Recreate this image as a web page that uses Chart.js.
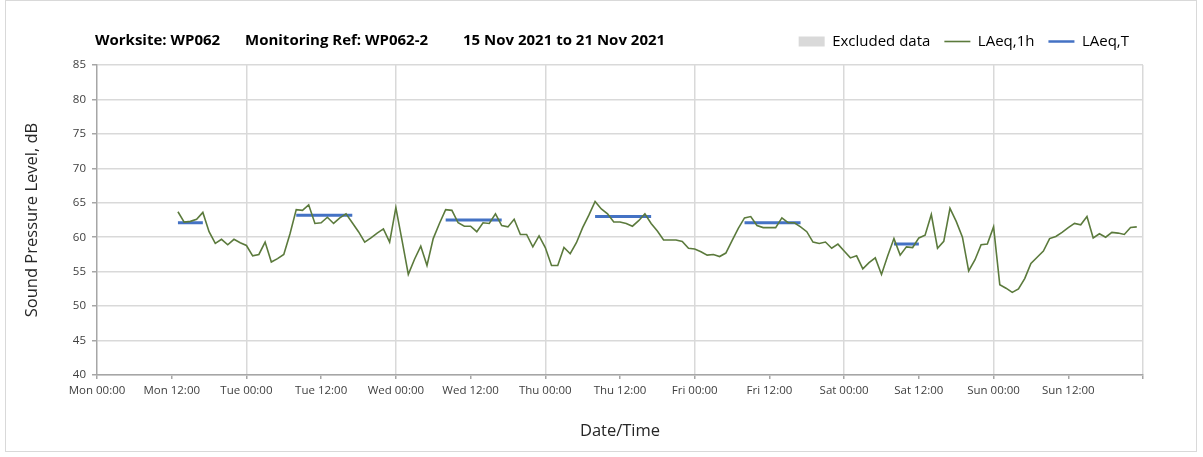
<!DOCTYPE html>
<html>
<head>
<meta charset="utf-8">
<script src="https://cdn.jsdelivr.net/npm/chart.js@4.4.1/dist/chart.umd.min.js"></script>
<style>
  html, body { margin: 0; padding: 0; background: #fff; }
  #wrap { position: relative; width: 1203px; height: 457px; }
</style>
</head>
<body>
<div id="wrap"><canvas id="noiseChart" width="1203" height="457"></canvas></div>
<script>
// x values are hours from Mon 00:00 (15 Nov 2021)
const firstHour = 13;
const laeq1h = [
  63.7, 62.2, 62.3, 62.6, 63.6, 60.8, 59.1, 59.7, 58.9, 59.7, 59.2,                   // Mon 13-23
  58.8, 57.3, 57.5, 59.3, 56.4, 56.9, 57.5, 60.5, 64.0, 63.9, 64.7, 62.0,             // Tue 00-11
  62.1, 62.9, 62.0, 62.8, 63.4, 62.1, 60.8, 59.3, 59.9, 60.6, 61.2, 59.3,             // Tue 12-23
  64.3, 59.5, 54.6, 56.8, 58.7, 55.9, 59.8, 62.0, 64.0, 63.9, 62.1, 61.6,             // Wed 00-11
  61.6, 60.8, 62.1, 62.0, 63.4, 61.7, 61.5, 62.6, 60.4, 60.4, 58.6, 60.2,             // Wed 12-23
  58.5, 55.9, 55.9, 58.5, 57.6, 59.2, 61.4, 63.2, 65.2, 64.1, 63.4, 62.2,             // Thu 00-11
  62.2, 62.0, 61.6, 62.4, 63.4, 62.0, 60.9, 59.6, 59.6, 59.6, 59.4, 58.4,             // Thu 12-23
  58.3, 57.9, 57.4, 57.5, 57.2, 57.7, 59.5, 61.3, 62.8, 63.0, 61.7, 61.4,             // Fri 00-11
  61.4, 61.4, 62.8, 62.1, 62.1, 61.5, 60.8, 59.3, 59.1, 59.3, 58.4, 59.0,             // Fri 12-23
  58.0, 57.0, 57.3, 55.4, 56.3, 57.0, 54.6, 57.3, 59.8, 57.4, 58.6, 58.5,             // Sat 00-11
  59.9, 60.3, 63.3, 58.4, 59.4, 64.2, 62.3, 60.0, 55.1, 56.7, 58.9, 59.0,             // Sat 12-23
  61.5, 53.1, 52.6, 52.0, 52.5, 54.0, 56.2, 57.1, 58.0, 59.8, 60.1, 60.7,             // Sun 00-11
  61.4, 62.0, 61.8, 63.0, 59.9, 60.5, 60.0, 60.7, 60.6, 60.4, 61.4, 61.5              // Sun 12-23
];

// daytime LAeq,T periods
const periodStart = [13, 32, 56, 80, 104, 128];
const periodEnd   = [17, 41, 65, 89, 113, 132];
const laeqT       = [62.1, 63.2, 62.5, 63.0, 62.1, 59.0];

const tickLabels = [
  'Mon 00:00', 'Mon 12:00', 'Tue 00:00', 'Tue 12:00', 'Wed 00:00', 'Wed 12:00',
  'Thu 00:00', 'Thu 12:00', 'Fri 00:00', 'Fri 12:00', 'Sat 00:00', 'Sat 12:00',
  'Sun 00:00', 'Sun 12:00', ''
];

const headerParts = ['Worksite: WP062', 'Monitoring Ref: WP062-2', '15 Nov 2021 to 21 Nov 2021'];

const hourlyPoints = laeq1h.map((v, i) => ({ x: firstHour + i, y: v }));
const periodPoints = [];
laeqT.forEach((v, i) => {
  periodPoints.push({ x: periodStart[i], y: v }, { x: periodEnd[i], y: v }, { x: periodEnd[i], y: null });
});

const FONT = 'Open Sans';

const frameAndHeader = {
  id: 'frameAndHeader',
  beforeInit(chart) {
    // leave a bit more room between legend and plot
    const fit = chart.legend.fit;
    chart.legend.fit = function () { fit.call(this); this.height += 6; };
  },
  beforeDraw(chart) {
    const c = chart.ctx;
    c.save();
    c.fillStyle = '#fff';
    c.fillRect(0, 0, chart.width, chart.height);
    c.strokeStyle = '#d9d9d9';
    c.lineWidth = 1;
    c.strokeRect(5.5, 0.5, 1191, 451);
    c.restore();
  },
  afterDraw(chart) {
    const c = chart.ctx;
    c.save();
    c.font = 'bold 15px "' + FONT + '"';
    c.fillStyle = '#000';
    c.textBaseline = 'middle';
    const xs = [95, 245, 463];
    headerParts.forEach((t, i) => c.fillText(t, xs[i], 41));
    c.restore();
  }
};

const ctx = document.getElementById('noiseChart').getContext('2d');
new Chart(ctx, {
  type: 'line',
  data: {
    datasets: [
      {
        label: 'Excluded data',
        data: [],
        backgroundColor: '#d9d9d9',
        borderColor: '#d9d9d9',
        legendStyle: 'rect',
        legendLine: 0
      },
      {
        label: 'LAeq,1h',
        data: hourlyPoints,
        borderColor: '#5b7a3c',
        borderWidth: 1.6,
        pointRadius: 0,
        tension: 0,
        legendStyle: 'line',
        legendLine: 1.6
      },
      {
        label: 'LAeq,T',
        data: periodPoints,
        borderColor: '#4472c4',
        borderWidth: 3,
        pointRadius: 0,
        spanGaps: false,
        legendStyle: 'line',
        legendLine: 2.5
      }
    ]
  },
  options: {
    responsive: false,
    animation: false,
    devicePixelRatio: 1,
    layout: { padding: { left: 18, right: 60, top: 20, bottom: 8 } },
    plugins: {
      legend: {
        position: 'top',
        align: 'end',
        labels: {
          usePointStyle: true,
          pointStyleWidth: 26,
          boxHeight: 10,
          padding: 14,
          color: '#262626',
          font: { family: FONT, size: 15 },
          generateLabels: (chart) => chart.data.datasets.map((ds, i) => ({
            text: ds.label,
            fillStyle: ds.backgroundColor || ds.borderColor,
            strokeStyle: ds.borderColor,
            lineWidth: ds.legendLine,
            pointStyle: ds.legendStyle,
            hidden: false,
            datasetIndex: i
          }))
        }
      },
      tooltip: { enabled: false }
    },
    scales: {
      x: {
        type: 'linear',
        min: 0,
        max: 168,
        afterFit: (s) => { s.height = 457 - 375 - 8; },
        ticks: {
          stepSize: 12,
          autoSkip: false,
          maxRotation: 0,
          padding: 5,
          color: '#404040',
          font: { family: FONT, size: 11.5 },
          callback: (v) => tickLabels[Math.round(v / 12)]
        },
        grid: {
          color: (c) => (c.tick && c.tick.value % 24 === 0 && c.tick.value > 0) ? '#d9d9d9' : 'rgba(0,0,0,0)',
          tickColor: '#a6a6a6',
          tickLength: 4,
          lineWidth: 1.5
        },
        border: { color: '#a6a6a6', width: 1.5 },
        title: {
          display: true,
          text: 'Date/Time',
          color: '#262626',
          font: { family: FONT, size: 16.5 },
          padding: { top: 4, bottom: 8 }
        }
      },
      y: {
        min: 40,
        max: 85,
        afterFit: (s) => { s.width = 97 - 18; },
        ticks: {
          stepSize: 5,
          padding: 6,
          color: '#404040',
          font: { family: FONT, size: 11.5 }
        },
        grid: {
          color: '#d9d9d9',
          tickColor: '#a6a6a6',
          tickLength: 5,
          lineWidth: 1.5
        },
        border: { color: '#a6a6a6', width: 1.5 },
        title: {
          display: true,
          text: 'Sound Pressure Level, dB',
          color: '#262626',
          font: { family: FONT, size: 16.5 },
          padding: { top: 4, bottom: 4 }
        }
      }
    }
  },
  plugins: [frameAndHeader]
});
</script>
</body>
</html>
